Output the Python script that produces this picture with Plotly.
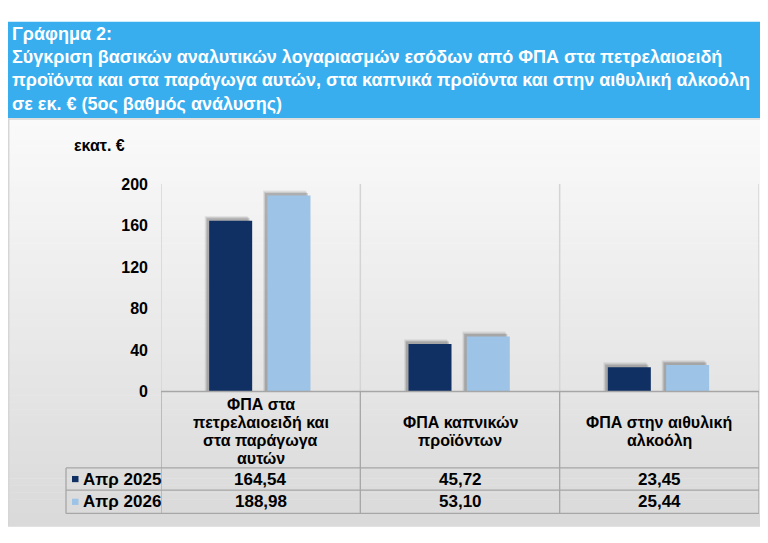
import plotly.graph_objects as go

# ---------------- data ----------------
categories = [
    "ΦΠΑ στα<br>πετρελαιοειδή και<br>στα παράγωγα<br>αυτών",
    "ΦΠΑ καπνικών<br>προϊόντων",
    "ΦΠΑ στην αιθυλική<br>αλκοόλη",
]
series_names = ["Απρ 2025", "Απρ 2026"]
apr_2025 = [164.54, 45.72, 23.45]
apr_2026 = [188.98, 53.10, 25.44]
y_ticks = [0, 40, 80, 120, 160, 200]
title_lines = [
    "Γράφημα 2:",
    "Σύγκριση βασικών αναλυτικών λογαριασμών εσόδων από ΦΠΑ στα πετρελαιοειδή",
    "προϊόντα και στα παράγωγα αυτών, στα καπνικά προϊόντα και στην αιθυλική αλκοόλη",
    "σε εκ. € (5ος βαθμός ανάλυσης)",
]
unit_label = "εκατ. €"

# ---------------- geometry (page pixels; the page body adds an 8px margin) ----------------
OFF = 8
W, H = 768 - 2 * OFF, 543 - 2 * OFF
def px(x):
    return (x - OFF) / W
def py(y):
    return 1 - (y - OFF) / H

DARK = "#102F62"
LIGHT = "#9DC3E6"
HEADER_BLUE = "#38AEEF"
TABLE_LINE = "#A6A6A6"
GRID_LINE = "#D4D4D4"
SANS = "Liberation Sans, Arial, sans-serif"

plot_x0, plot_x1 = 161, 759
plot_y0, plot_y1 = 396, 181.6
ymax = 200
unit_px = (plot_x1 - plot_x0) / len(categories)
val_px = (plot_y0 - plot_y1) / ymax

bar_w = 43 / unit_px
offsets = [-51.5 / unit_px, 6.8 / unit_px]
series_vals = [apr_2025, apr_2026]
series_cols = [DARK, LIGHT]
xs = list(range(len(categories)))

fig = go.Figure()

# soft shadows, offset up-left
shadow_layers = [(4.5, 5.0, 0.08), (3.5, 3.8, 0.12), (2.5, 2.6, 0.18)]
for vals, off in zip(series_vals, offsets):
    for dx, dy, a in shadow_layers:
        fig.add_trace(go.Bar(
            x=xs, y=[v + dy / val_px for v in vals],
            offset=off - dx / unit_px, width=bar_w,
            marker=dict(color=f"rgba(40,40,40,{a})", line=dict(width=0)),
            showlegend=False, hoverinfo="skip",
        ))

for name, vals, off, col in zip(series_names, series_vals, offsets, series_cols):
    fig.add_trace(go.Bar(
        x=xs, y=vals, name=name, offset=off, width=bar_w,
        marker=dict(color=col, line=dict(width=0)),
        showlegend=False,
    ))

shapes = []
# gradient panel background
panel_top, panel_bottom = 114, 543
n_bands = 60
c_top, c_bot = (250, 250, 250), (217, 217, 217)
for i in range(n_bands):
    t = i / (n_bands - 1)
    c = tuple(round(c_top[k] + (c_bot[k] - c_top[k]) * t) for k in range(3))
    y0 = panel_top + (panel_bottom - panel_top) * i / n_bands
    y1 = panel_top + (panel_bottom - panel_top) * (i + 1) / n_bands + 0.5
    shapes.append(dict(type="rect", xref="paper", yref="paper",
                       x0=px(8), x1=1, y0=max(0, py(y1)), y1=py(y0),
                       fillcolor=f"rgb{c}", line=dict(width=0), layer="below"))
# panel border
shapes.append(dict(type="line", xref="paper", yref="paper", x0=px(8.7), x1=px(8.7),
                   y0=0, y1=py(114), line=dict(color="#D6D6D6", width=1.5), layer="below"))
shapes.append(dict(type="line", xref="paper", yref="paper", x0=px(8), x1=1,
                   y0=py(114.5), y1=py(114.5), line=dict(color="#D6D6D6", width=1.5), layer="below"))
# header band
shapes.append(dict(type="rect", xref="paper", yref="paper", x0=0, x1=1,
                   y0=py(113.5), y1=py(14), fillcolor=HEADER_BLUE, line=dict(width=0), layer="below"))

# vertical separators in the plot area
bounds = [i - 0.5 for i in range(len(categories) + 1)]
for b in bounds:
    shapes.append(dict(type="line", xref="x", yref="paper", x0=b, x1=b,
                       y0=py(plot_y0), y1=py(plot_y1),
                       line=dict(color=GRID_LINE, width=1.5), layer="below"))

# data table lines
row_lines = [396, 475, 498, 522]
label_x0 = 66
for i, yl in enumerate(row_lines):
    shapes.append(dict(type="line", xref="paper", yref="paper",
                       x0=px(plot_x0 if i == 0 else label_x0), x1=px(plot_x1),
                       y0=py(yl), y1=py(yl), line=dict(color=TABLE_LINE, width=1.3)))
for b in bounds:
    shapes.append(dict(type="line", xref="x", yref="paper", x0=b, x1=b,
                       y0=py(row_lines[0]), y1=py(row_lines[-1]),
                       line=dict(color=TABLE_LINE, width=1.3)))
shapes.append(dict(type="line", xref="paper", yref="paper", x0=px(label_x0), x1=px(label_x0),
                   y0=py(row_lines[1]), y1=py(row_lines[-1]),
                   line=dict(color=TABLE_LINE, width=1.3)))

annotations = []
# title
title_y = [27, 50.5, 74.5, 98.5]
for txt, yy in zip(title_lines, title_y):
    annotations.append(dict(xref="paper", yref="paper", x=px(10), y=py(yy),
                            xanchor="left", yanchor="middle", showarrow=False,
                            text=txt, font=dict(family=SANS, size=18, color="white", weight="bold")))
# unit label
annotations.append(dict(xref="paper", yref="paper", x=px(72), y=py(142),
                        xanchor="left", yanchor="middle", showarrow=False,
                        text=unit_label, font=dict(family=SANS, size=16, color="black", weight="bold")))
# table header: category names, line by line
line_gap = 18.5
head_mid = (row_lines[0] + row_lines[1]) / 2 + 1.5
for i, cat in enumerate(categories):
    parts = cat.split("<br>")
    n = len(parts)
    for k, part in enumerate(parts):
        annotations.append(dict(xref="x", yref="paper", x=i,
                                y=py(head_mid + (k - (n - 1) / 2) * line_gap),
                                xanchor="center", yanchor="middle", showarrow=False,
                                text=part,
                                font=dict(family=SANS, size=16, color="black", weight="bold")))
# table rows
for r, (name, vals, col) in enumerate(zip(series_names, series_vals, series_cols)):
    ymid = (row_lines[r + 1] + row_lines[r + 2]) / 2
    shapes.append(dict(type="rect", xref="paper", yref="paper",
                       x0=px(72), x1=px(78.5), y0=py(ymid + 3.2), y1=py(ymid - 3.2),
                       fillcolor=col, line=dict(width=0)))
    annotations.append(dict(xref="paper", yref="paper", x=px(81), y=py(ymid),
                            xanchor="left", yanchor="middle", showarrow=False,
                            text=name, font=dict(family=SANS, size=17, color="black", weight="bold")))
    for i, v in enumerate(vals):
        annotations.append(dict(xref="x", yref="paper", x=i, y=py(ymid),
                                xanchor="center", yanchor="middle", showarrow=False,
                                text=f"{v:.2f}".replace(".", ","),
                                font=dict(family=SANS, size=17, color="black", weight="bold")))

fig.update_layout(
    width=W, height=H,
    margin=dict(l=0, r=0, t=0, b=0),
    paper_bgcolor="white",
    plot_bgcolor="rgba(0,0,0,0)",
    barmode="overlay",
    showlegend=False,
    xaxis=dict(domain=[px(plot_x0), px(plot_x1)], range=[-0.5, len(categories) - 0.5],
               showticklabels=False, showgrid=False, zeroline=False, showline=False, fixedrange=True),
    yaxis=dict(domain=[py(plot_y0), py(plot_y1)], range=[0, ymax],
               tickvals=y_ticks, ticktext=[str(t) for t in y_ticks],
               showgrid=False, zeroline=False, showline=False, ticks="",
               ticklabelstandoff=12,
               tickfont=dict(family=SANS, size=16, color="black", weight="bold"), fixedrange=True),
    shapes=shapes,
    annotations=annotations,
)

fig.write_html("out.html")
